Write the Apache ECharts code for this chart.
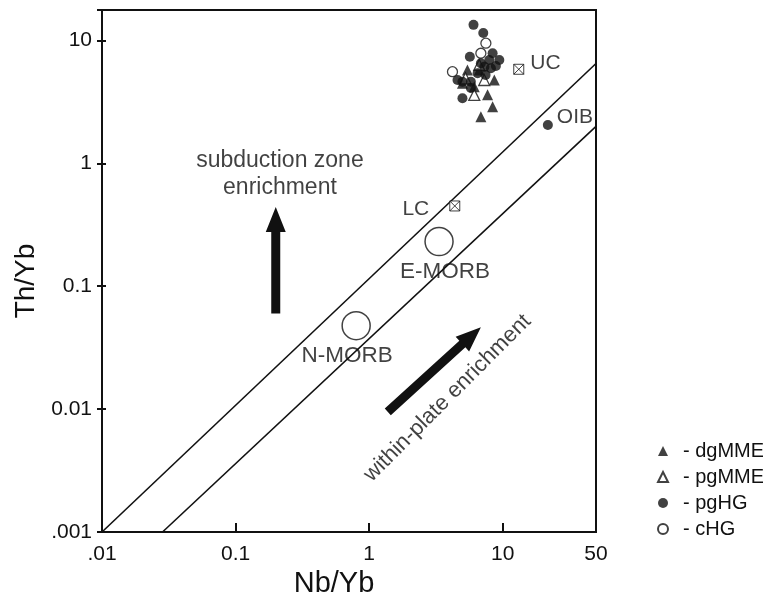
<!DOCTYPE html>
<html><head><meta charset="utf-8">
<script src="https://cdn.jsdelivr.net/npm/echarts@6/dist/echarts.min.js"></script>
<style>html,body{margin:0;padding:0;background:#fff}#c{width:763px;height:609px}</style>
</head><body><div id="c"></div>
<script>
// ---- data ----
const xTickValues = [0.01, 0.1, 1, 10, 50];
const xTickLabels = ['.01', '0.1', '1', '10', '50'];
const yTickValues = [0.001, 0.01, 0.1, 1, 10];
const yTickLabels = ['.001', '0.01', '0.1', '1', '10'];
const xRange = [0.01, 50];
const yRange = [0.001, 17.7];

const dgMME = [[5.45,5.75],[6.68,5.75],[8.66,4.77],[5.0,4.49],[6.13,4.21],[7.71,3.61],[8.41,2.89],[6.87,2.40]];
const pgMME = [[5.27,4.92],[7.28,4.77],[6.13,3.61],[6.68,6.32]];
const pgHG = [[6.05,13.4],[7.16,11.5],[5.68,7.38],[8.41,7.87],[7.94,6.94],[9.44,6.94],[6.87,6.52],[8.17,5.94],[6.49,5.41],[4.59,4.77],[5.0,4.62],[5.78,4.62],[7.45,5.24],[5.78,4.11],[5.0,3.39],[8.9,6.2],[7.3,6.1]];
const cHG = [[7.49,9.5],[6.87,7.87],[4.21,5.57]];

const crustNames = ['UC', 'LC'];
const crustValues = [[13.2,5.83],[4.38,0.45]];
const oibName = 'OIB';
const oibValue = [21.8,2.05];
const morbNames = ['E-MORB', 'N-MORB'];
const morbValues = [[3.34,0.231],[0.80,0.0478]];

const upperLine = [[0.01,0.001],[50,6.5]];
const lowerLine = [[0.0284,0.001],[50,2.0]];

const arrows = [[0.2,0.060,0.2,0.442],[1.38,0.0095,6.87,0.0464]];
const noteTexts = ['subduction zone\nenrichment', 'within-plate enrichment'];
const noteValues = [[0.215,0.82],[3.86,0.0123]];
const noteRotations = [0, 45];
const noteSizes = [23, 22];

// ---- chart ----
const FONT = '"Liberation Sans", Arial, sans-serif';
const INK = '#111';
const TXT = '#111';
function lookup(vals, labels, v) {
  for (let i = 0; i < vals.length; i++) if (Math.abs(Math.log10(v) - Math.log10(vals[i])) < 1e-6) return labels[i];
  return '';
}
const chart = echarts.init(document.getElementById('c'), null, {renderer: 'canvas'});
const scatterBase = {type: 'scatter', emphasis: {disabled: true}, z: 5};
chart.setOption({
  animation: false,
  backgroundColor: '#fff',
  textStyle: {fontFamily: FONT},
  grid: {left: 102, top: 10, right: 167, bottom: 77, show: true, borderColor: INK, borderWidth: 2, backgroundColor: 'transparent'},
  xAxis: {
    type: 'log', logBase: 10, min: xRange[0], max: xRange[1],
    name: 'Nb/Yb', nameLocation: 'middle', nameGap: 32,
    nameTextStyle: {fontSize: 29, color: TXT, fontFamily: FONT, padding: [0, 30, 0, 0]},
    axisLine: {lineStyle: {color: INK, width: 2}},
    axisTick: {inside: true, length: 9, lineStyle: {color: INK, width: 2}},
    axisLabel: {margin: 12, fontSize: 21, color: TXT, fontFamily: FONT, formatter: v => lookup(xTickValues, xTickLabels, v)},
    splitLine: {show: false}, minorTick: {show: false}
  },
  yAxis: [{
    type: 'log', logBase: 10, min: yRange[0], max: yRange[1],
    name: 'Th/Yb', nameLocation: 'middle', nameGap: 58, nameRotate: 90,
    nameTextStyle: {fontSize: 28, color: TXT, fontFamily: FONT, padding: [0, 20, 0, 0]},
    axisLine: {lineStyle: {color: INK, width: 2}},
    axisTick: {inside: false, length: 5, lineStyle: {color: INK, width: 2}},
    axisLabel: {margin: 10, fontSize: 21, color: TXT, fontFamily: FONT, formatter: v => lookup(yTickValues, yTickLabels, v)},
    splitLine: {show: false}
  }, {
    type: 'log', logBase: 10, min: yRange[0], max: yRange[1], position: 'left',
    axisLine: {show: false},
    axisTick: {inside: true, length: 4, lineStyle: {color: INK, width: 2}},
    axisLabel: {show: false}, splitLine: {show: false}
  }],
  legend: {
    data: ['dgMME', 'pgMME', 'pgHG', 'cHG'],
    orient: 'vertical', left: 652, top: 436, itemGap: 6, itemWidth: 10, itemHeight: 10,
    selectedMode: false, formatter: n => '- ' + n,
    textStyle: {fontSize: 20, color: TXT, fontFamily: FONT, padding: [0, 0, 0, 10]}
  },
  series: [
    {type: 'line', data: upperLine, symbol: 'none', lineStyle: {color: INK, width: 1.6}, silent: true, z: 2},
    {type: 'line', data: lowerLine, symbol: 'none', lineStyle: {color: INK, width: 1.6}, silent: true, z: 2},
    {type: 'custom', data: arrows, silent: true, z: 3,
      encode: {x: [0, 2], y: [1, 3]},
      renderItem: (params, api) => {
        const p0 = api.coord([api.value(0), api.value(1)]);
        const p1 = api.coord([api.value(2), api.value(3)]);
        const dx = p1[0] - p0[0], dy = p1[1] - p0[1];
        const L = Math.hypot(dx, dy), ux = dx / L, uy = dy / L, nx = -uy, ny = ux;
        const hl = 25, sw = 4.5, hw = 10;
        const bx = p1[0] - ux * hl, by = p1[1] - uy * hl;
        return {type: 'polygon', shape: {points: [
          [p0[0] + nx * sw, p0[1] + ny * sw], [bx + nx * sw, by + ny * sw], [bx + nx * hw, by + ny * hw],
          [p1[0], p1[1]], [bx - nx * hw, by - ny * hw], [bx - nx * sw, by - ny * sw], [p0[0] - nx * sw, p0[1] - ny * sw]
        ]}, style: {fill: INK}};
      }},
    Object.assign({}, scatterBase, {name: 'dgMME', data: dgMME, symbol: 'triangle', symbolSize: 11, itemStyle: {color: INK}}),
    Object.assign({}, scatterBase, {name: 'pgMME', data: pgMME, symbol: 'triangle', symbolSize: 11, itemStyle: {color: '#fff', borderColor: INK, borderWidth: 1.3}}),
    Object.assign({}, scatterBase, {name: 'pgHG', data: pgHG, symbol: 'circle', symbolSize: 10, itemStyle: {color: INK}}),
    Object.assign({}, scatterBase, {name: 'cHG', data: cHG, symbol: 'circle', symbolSize: 10, itemStyle: {color: '#fff', borderColor: INK, borderWidth: 1.3}}),
    {type: 'scatter', silent: true, emphasis: {disabled: true}, z: 4,
      symbol: 'path://M0,0L10,0L10,10L0,10Z M0,0L10,10 M10,0L0,10', symbolSize: 10,
      itemStyle: {color: '#fff', borderColor: INK, borderWidth: 1},
      data: crustNames.map((n, i) => ({name: n, value: crustValues[i],
        label: {show: true, formatter: '{b}', position: i === 0 ? 'right' : 'left', distance: 6, offset: i === 0 ? [0, -6] : [-14, 3],
          fontSize: 21, color: TXT, fontFamily: FONT}}))},
    {type: 'scatter', silent: true, emphasis: {disabled: true}, z: 4, symbol: 'circle', symbolSize: 10,
      itemStyle: {color: INK},
      data: [{name: oibName, value: oibValue, label: {show: true, formatter: '{b}', position: 'right', distance: 4, offset: [0, -8], fontSize: 21, color: TXT, fontFamily: FONT}}]},
    {type: 'scatter', silent: true, emphasis: {disabled: true}, z: 4, symbol: 'circle', symbolSize: 28,
      itemStyle: {color: '#fff', borderColor: INK, borderWidth: 1.5},
      data: morbNames.map((n, i) => ({name: n, value: morbValues[i],
        label: {show: true, formatter: '{b}', position: 'bottom', distance: 4, offset: i === 0 ? [6, 0] : [-9, 0],
          fontSize: 22.5, color: TXT, fontFamily: FONT}}))},
    {type: 'scatter', silent: true, emphasis: {disabled: true}, z: 6, symbolSize: 1,
      itemStyle: {color: 'rgba(0,0,0,0)'},
      data: noteTexts.map((t, i) => ({value: noteValues[i],
        label: {show: true, formatter: t, position: 'inside', rotate: noteRotations[i], fontSize: noteSizes[i], lineHeight: 27,
          color: TXT, fontFamily: FONT, align: 'center', verticalAlign: 'middle'}}))}
  ]
});
</script></body></html>
